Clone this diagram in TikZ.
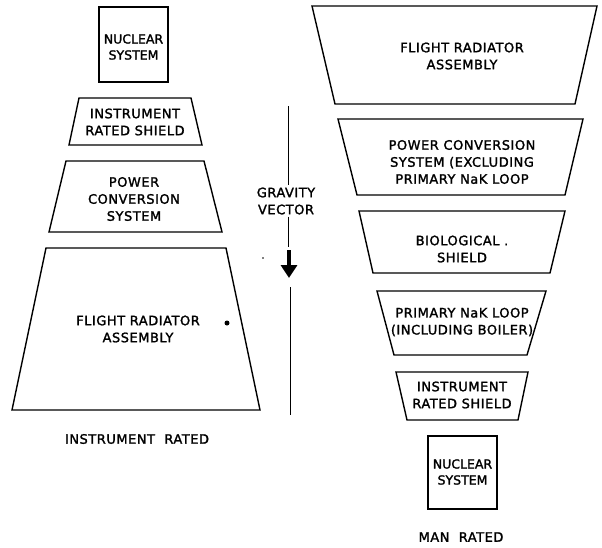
\documentclass[tikz,border=0pt]{standalone}
\usepackage{fontspec}
\usetikzlibrary{arrows.meta}
\newfontfamily\wideletters[LetterSpace=4,FakeBold=1.6]{DejaVu Sans}
\newfontfamily\tightletters[FakeBold=1.6]{DejaVu Sans}
\begin{document}
\begin{tikzpicture}[
                x=1pt, y=-1pt,
                outline/.style={draw, line width=1.4pt, line join=miter},
                boxtext/.style={
                        font=\wideletters\fontsize{13}{17}\selectfont,
                        align=center, inner sep=2pt
                    },
                coretext/.style={
                        font=\tightletters\fontsize{12.5}{16}\selectfont,
                        align=center, inner sep=1pt
                    },
                gravline/.style={draw, line width=0.7pt}
            ]
            \useasboundingbox (0,0) rectangle (602,547);

            % Instrument rated stack (left)
            \draw[outline] (99,7) rectangle (168,82);
            \node[coretext] (nucL) at (133.5,47) {NUCLEAR\\SYSTEM};

            \draw[outline] (79,98) -- (191,98) -- (202,145) -- (69,145) -- cycle;
            \node[boxtext] (shieldL) at (135,122) {INSTRUMENT\\RATED SHIELD};

            \draw[outline] (66,161) -- (204,161) -- (222,232) -- (49,232) -- cycle;
            \node[boxtext] (powerL) at (134,199) {POWER\\CONVERSION\\SYSTEM};

            \draw[outline] (46,248) -- (226,248) -- (260,410) -- (12,410) -- cycle;
            \node[boxtext] (radL) at (138,329) {FLIGHT RADIATOR\\ASSEMBLY};
            \fill (227,323) circle (2.5pt);

            \node[boxtext] (titleL) at (137,439) {INSTRUMENT\ \ RATED};

            % Gravity vector
            \node[boxtext] (grav) at (286,201) {GRAVITY\\VECTOR};
            \coordinate (gtop) at (288,106);
            \coordinate (gmid) at (288,247);
            \coordinate (atail) at (289,250);
            \coordinate (ahead) at (289,278);
            \coordinate (lowtop) at (290,287);
            \coordinate (lowbot) at (290,415);
            \draw[gravline] (gtop) -- (gtop |- grav.north);
            \draw[gravline] (gmid |- grav.south) -- (gmid);
            \draw[line width=4pt, -{Triangle[width=16pt,length=13pt]}] (atail) -- (ahead);
            \draw[gravline] (lowtop) -- (lowbot);
            \fill (263,258) circle (0.9pt);

            % Man rated stack (right)
            \draw[outline] (312,6) -- (597,6) -- (575,104) -- (335,104) -- cycle;
            \node[boxtext] (radR) at (462,56) {FLIGHT RADIATOR\\ASSEMBLY};

            \draw[outline] (338,119) -- (583,119) -- (565,195) -- (357,195) -- cycle;
            \node[boxtext] (powerR) at (462,162) {POWER CONVERSION\\SYSTEM (EXCLUDING\\PRIMARY NaK LOOP};

            \draw[outline] (359,211) -- (565,211) -- (550,273) -- (373,273) -- cycle;
            \node[boxtext] (bioR) at (462,249) {BIOLOGICAL .\\SHIELD};

            \draw[outline] (377,291) -- (546,291) -- (527,355) -- (394,355) -- cycle;
            \node[boxtext] (nakR) at (462,322) {PRIMARY NaK LOOP\\(INCLUDING BOILER)};

            \draw[outline] (396,372) -- (528,372) -- (518,420) -- (407,420) -- cycle;
            \node[boxtext] (shieldR) at (462,395) {INSTRUMENT\\RATED SHIELD};

            \draw[outline] (428,436) rectangle (497,509);
            \node[coretext] (nucR) at (462.5,472) {NUCLEAR\\SYSTEM};

            \node[boxtext] (titleR) at (461,537) {MAN\ \ RATED};

        \end{tikzpicture}
\end{document}
